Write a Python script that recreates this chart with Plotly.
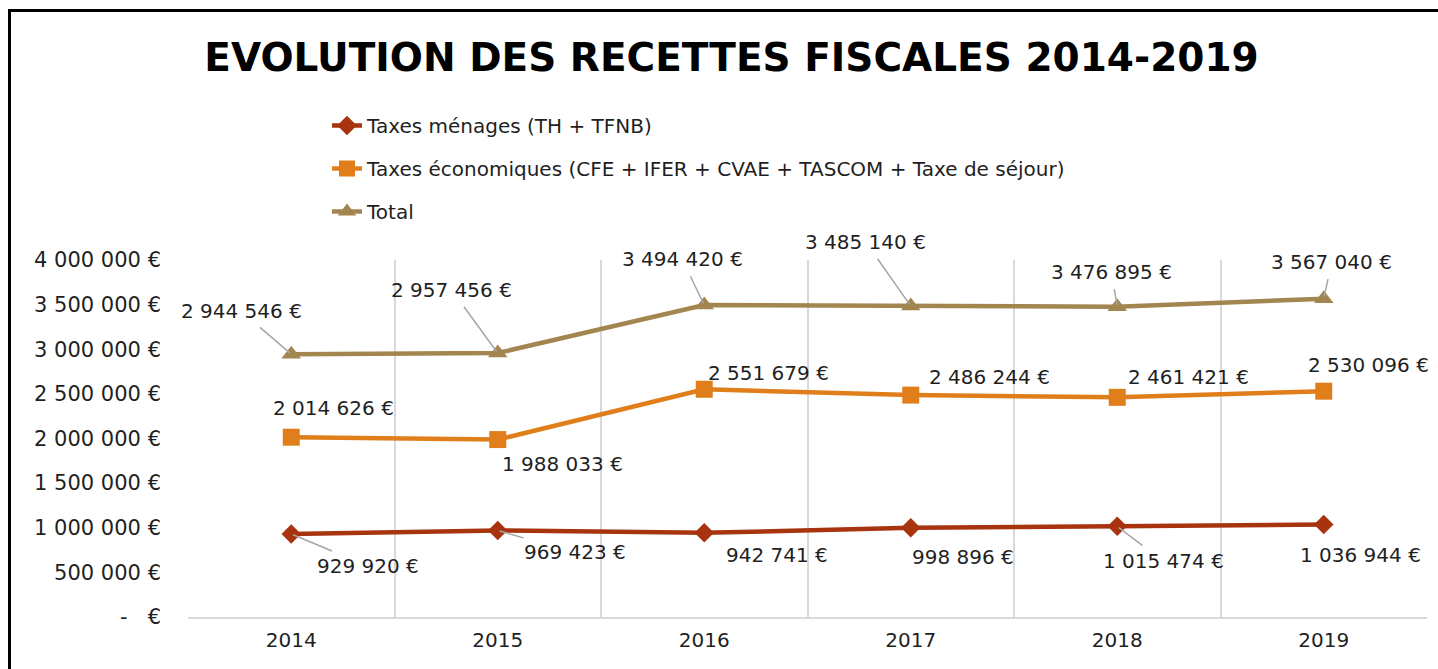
import plotly.graph_objects as go

# ---- data ----
years = ["2014", "2015", "2016", "2017", "2018", "2019"]
menages = [929920, 969423, 942741, 998896, 1015474, 1036944]
economiques = [2014626, 1988033, 2551679, 2486244, 2461421, 2530096]
total = [2944546, 2957456, 3494420, 3485140, 3476895, 3567040]
y_ticks = [0, 500000, 1000000, 1500000, 2000000, 2500000, 3000000, 3500000, 4000000]

names = ["Taxes ménages (TH + TFNB)",
         "Taxes économiques (CFE + IFER + CVAE + TASCOM + Taxe de séjour)",
         "Total"]
colors = ["#A8330F", "#E07E1B", "#A2854F"]
symbols = ["diamond", "square", "triangle-up"]
msizes = [15, 17, 17]

# label offsets (pixels, label centre relative to point) and whether a leader line is drawn
offsets_menages = [(77, 32, True), (77, 22, True), (73, 22, False), (52, 29, False), (46, 35, True), (37, 31, False)]
offsets_eco = [(42, -29, False), (65, 24, False), (64, -16, False), (79, -18, False), (71, -20, False), (45, -26, False)]
offsets_total = [(-50, -43, True), (-46, -63, True), (-22, -46, True), (-45, -64, True), (-6, -35, True), (8, -37, True)]

FONT = "DejaVu Sans"
TXT = "#1f1f1f"

W, H = 1438, 669
L, R, T, B = 188, 11, 260, 52
PW, PH = W - L - R, H - T - B


def px_to_paper_x(px):
    return (px - L) / PW


def px_to_paper_y(py):
    return (H - B - py) / PH


def fmt(v):
    return f"{v:,}".replace(",", " ") + " €"


fig = go.Figure()
series = [menages, economiques, total]
xidx = list(range(len(years)))
for name, vals, col, sym, ms in zip(names, series, colors, symbols, msizes):
    fig.add_trace(go.Scatter(
        x=xidx, y=vals, name=name, mode="lines+markers",
        line=dict(color=col, width=4.5),
        marker=dict(symbol=sym, size=ms, color=col),
        legendgroup=name,
    ))

annotations = []
for vals, offs in zip(series, [offsets_menages, offsets_eco, offsets_total]):
    for i, (v, (ax, ay, lead)) in enumerate(zip(vals, offs)):
        if lead:
            annotations.append(dict(
                x=i, y=v, xref="x", yref="y", text=fmt(v), showarrow=True,
                arrowhead=0, arrowwidth=1.5, arrowcolor="#A6A6A6",
                ax=ax, ay=ay, standoff=2, startstandoff=4,
                font=dict(family=FONT, size=20, color=TXT)))
        else:
            annotations.append(dict(
                x=i, y=v, xref="x", yref="y", text=fmt(v), showarrow=False,
                xshift=ax, yshift=-ay,
                font=dict(family=FONT, size=20, color=TXT)))

fig.update_layout(
    width=W, height=H,
    margin=dict(l=L, r=R, t=T, b=B),
    paper_bgcolor="white", plot_bgcolor="white",
    title=dict(text="<b>EVOLUTION DES RECETTES FISCALES 2014-2019</b>",
               x=731.5 / W, xref="container", xanchor="center",
               y=1 - 57 / H, yref="container", yanchor="middle",
               font=dict(family=FONT, size=39, color="black")),
    legend=dict(x=px_to_paper_x(327), y=px_to_paper_y(106),
                xanchor="left", yanchor="top",
                font=dict(family=FONT, size=20, color=TXT),
                tracegroupgap=14, bgcolor="rgba(0,0,0,0)",
                traceorder="grouped"),
    showlegend=True,
    annotations=annotations,
    shapes=[dict(type="rect", xref="paper", yref="paper",
                 x0=px_to_paper_x(9.5), x1=px_to_paper_x(1450),
                 y0=px_to_paper_y(690), y1=px_to_paper_y(10.5),
                 line=dict(color="black", width=3), layer="below")],
)

fig.update_xaxes(type="linear", tickvals=xidx, ticktext=years,
                 showgrid=False, zeroline=False,
                 showline=True, linecolor="#D9D9D9", linewidth=1.5, ticks="",
                 range=[-0.5, 5.5], minor=dict(tickvals=[i - 0.5 for i in xidx] + [len(years) - 0.5],
                                                showgrid=True, gridcolor="#D9D9D9", gridwidth=1.5),
                 tickfont=dict(family=FONT, size=20, color=TXT),
                 ticklabelstandoff=4)
fig.update_yaxes(range=[0, 4000000], showgrid=False, zeroline=False,
                 showline=False, tickvals=y_ticks,
                 ticktext=[fmt(v) if v else "-   €" for v in y_ticks],
                 tickfont=dict(family=FONT, size=21, color=TXT),
                 ticklabelstandoff=26)

fig.write_html("out.html", config={"displayModeBar": False},
               post_script="document.body.style.margin='0';")
